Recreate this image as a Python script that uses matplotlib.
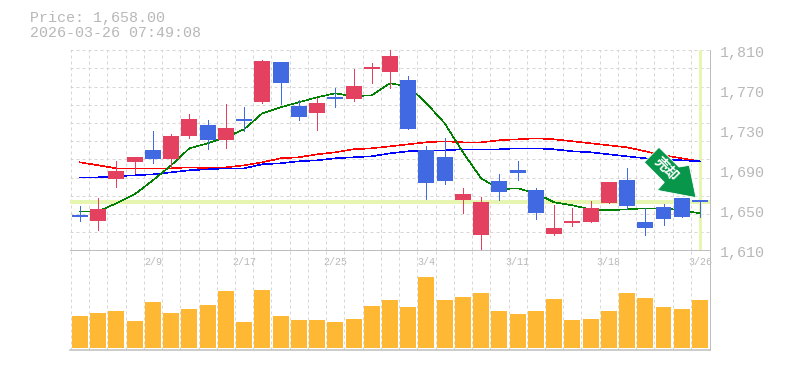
import numpy as np
import matplotlib
matplotlib.use('Agg')
import matplotlib.pyplot as plt
from matplotlib.patches import Polygon
from matplotlib.transforms import Affine2D

W, H = 785, 370

opens = [1645,1639,1681,1698,1710,1701,1724,1735,1720,1741,1758,1798,1754,1747,1763,1761,1791,1788,1780,1710,1703,1660,1625,1679,1690,1670,1626,1637,1638,1657,1680,1638,1653,1662,1660]
closes = [1643,1651,1689,1703,1701,1724,1741,1720,1732,1739,1799,1777,1743,1757,1761,1774,1793,1804,1731,1677,1679,1666,1658,1668,1687,1647,1632,1639,1652,1678,1654,1632,1641,1643,1658]
highs = [1654,1662,1699,1703,1729,1726,1746,1740,1756,1753,1800,1798,1760,1762,1772,1791,1797,1810,1784,1714,1722,1672,1663,1686,1699,1672,1655,1652,1659,1678,1692,1652,1656,1662,1660]
lows = [1639,1630,1673,1687,1697,1693,1722,1711,1712,1729,1757,1756,1740,1730,1753,1759,1777,1772,1731,1661,1676,1647,1610,1660,1680,1641,1625,1634,1638,1657,1651,1625,1635,1643,1643]

ma_green = [1649,1649,1657,1666,1680,1695,1712,1717,1723,1731,1747,1753,1758,1763,1767,1764,1765,1777,1774,1757,1737,1708,1682,1671,1672,1667,1658,1655,1651,1650,1651,1652,1652,1650,1647]
ma_red = [1698,1695,1692,1692,1692,1692,1693,1692,1693,1695,1698,1702,1703,1706,1708,1711,1712,1714,1716,1718,1719,1718,1718,1720,1721,1722,1721,1719,1717,1715,1713,1709,1705,1702,1699]
ma_blue = [1683,1683,1684,1685,1686,1688,1690,1691,1692,1692,1696,1697,1699,1700,1702,1703,1704,1707,1709,1710,1710,1711,1711,1711,1712,1712,1711,1709,1708,1706,1704,1702,1701,1700,1699]

volume = [32,35,37,27,46,35,39,43,57,26,58,32,28,28,26,29,42,48,41,71,48,51,55,37,34,37,49,28,29,37,55,50,41,39,48]

date_pos = [4, 9, 14, 19, 24, 29, 34]
date_labels = ['2/9', '2/17', '2/25', '3/4', '3/11', '3/18', '3/26']
price_ticks = [1610, 1650, 1690, 1730, 1770, 1810]
price_labels = ['1,610', '1,650', '1,690', '1,730', '1,770', '1,810']
last_price = 1658

RED = '#e4405f'
BLUE = '#4169e1'
GRID = '#d6d6d6'
AXIS = '#bdbdbd'
TEXT = '#b8b8b8'
HILITE = '#e6f5b0'
MONO = 'Liberation Mono'

def box(left, top, right, bottom):
    return [left / W, 1 - bottom / H, (right - left) / W, (bottom - top) / H]

fig = plt.figure(figsize=(W / 100, H / 100), dpi=100, facecolor='white')
ax = fig.add_axes(box(70, 50.3, 710, 250.3))
ax_v = fig.add_axes(box(70, 250.3, 710, 350))

x = np.arange(len(closes))
xlim = (-0.548, 34.55)
px = 0.72  # one pixel in points

for a in (ax, ax_v):
    a.set_xlim(xlim)
    a.set_facecolor('none')
    a.spines['top'].set_visible(False)
    a.spines['left'].set_visible(False)
    a.spines['right'].set_color(AXIS)
    a.spines['bottom'].set_color(AXIS)
    a.spines['right'].set_linewidth(px)
    a.spines['bottom'].set_linewidth(px)
    a.set_yticks([])
    a.set_xticks(x - 0.5, minor=True)
    a.tick_params(which='both', length=0)
    a.grid(True, which='minor', axis='x', color=GRID, lw=px, ls=(0, (3, 3)))
    a.set_axisbelow(True)

ax_v.set_xticks([])
ax_v.spines['bottom'].set_linewidth(px * 1.5)

ax.set_ylim(1610, 1810)
ax.set_yticks(np.linspace(1610, 1810, 12), minor=True)
ax.grid(True, which='minor', axis='y', color=GRID, lw=px, ls=(0, (3, 3)))
ax.set_xticks(date_pos)
ax.set_xticklabels(date_labels, family=MONO, fontsize=7.2, color=TEXT)
ax.tick_params(axis='x', which='major', length=0, pad=5)
ax.tick_params(axis='y', which='minor', labelleft=False)

for v, s in zip(price_ticks, price_labels):
    ax.text(1 + 10 / 640, v - 3, s, transform=ax.get_yaxis_transform(), family=MONO,
            fontsize=10.8, color=TEXT, ha='left', va='center', clip_on=False)

ax.axhline(last_price, color=HILITE, lw=px * 4, zorder=1.5)
ax.axvline(34, ymin=0.01, ymax=1, color=HILITE, lw=px * 3, zorder=1.5)

ax.plot(x, ma_red, color='red', lw=0.4, antialiased=False, zorder=2)
ax.plot(x, ma_blue, color='blue', lw=0.4, antialiased=False, zorder=2)
ax.plot(x, ma_green, color='green', lw=0.4, antialiased=False, zorder=2)

colors = [RED if c > o else BLUE for o, c in zip(opens, closes)]
ax.vlines(x, lows, highs, colors=colors, lw=px, zorder=3, antialiased=False)
ax.bar(x, np.abs(np.array(closes) - np.array(opens)), bottom=np.minimum(opens, closes),
       width=0.877, color=colors, zorder=4)

ax_v.set_ylim(-2, 97.7)
ax_v.bar(x, volume, width=0.877, color='#ffb833', zorder=3)

# sell arrow, pixel offsets from the last candle
arrow = [(-41, 55), (-55.7, 40), (-35.7, 20), (-42.7, 12), (-4, 4.7), (-10.7, 37), (-21, 35.3)]
anchor = ax.transData.transform((34, last_price))
ax.add_patch(Polygon(arrow, closed=True, facecolor='#07964a', edgecolor='white', lw=0.6, zorder=5,
                     clip_on=False, transform=Affine2D().translate(*anchor)))
ax.annotate('売却', xy=(34, last_price), xytext=(-34, 33), textcoords='offset pixels',
            family='Noto Sans CJK JP', weight='bold', fontsize=10, color='white',
            rotation=-45, rotation_mode='anchor', ha='center', va='center', zorder=6)

fig.text(30 / W, 1 - 18 / H, 'Price: 1,658.00', family=MONO, fontsize=10.8, color=TEXT, va='center')
fig.text(30 / W, 1 - 33 / H, '2026-03-26 07:49:08', family=MONO, fontsize=10.8, color=TEXT, va='center')

fig.savefig('out.png', dpi=100)
